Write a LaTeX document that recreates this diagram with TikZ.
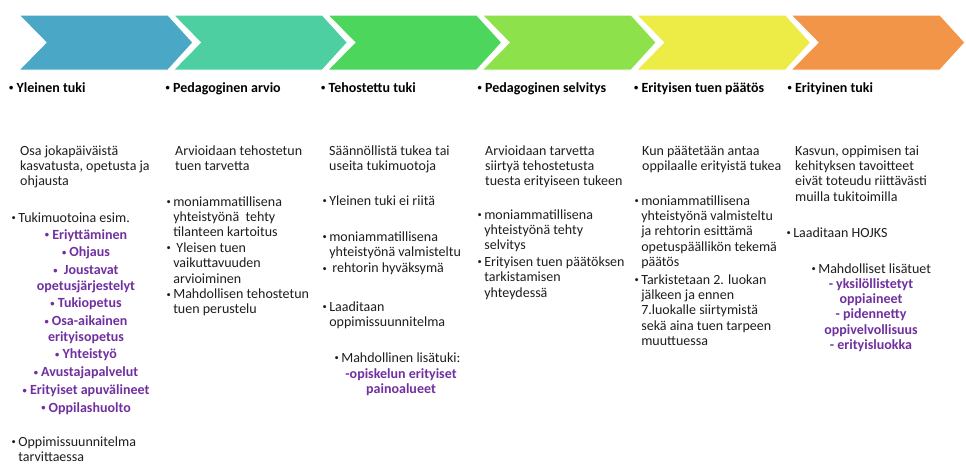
\documentclass[tikz,border=0pt]{standalone}
\usepackage{fontspec}
\setmainfont{Carlito}
\newcommand\fs{\fontsize{14}{15.4}\selectfont}
\newcommand\bu{\raisebox{1.4pt}{\fontsize{8.5}{8.5}\selectfont•}}
\newcommand\tb[1]{\begin{tabular}[t]{@{}l@{}}#1\end{tabular}}
\newcommand\bt[1]{\begin{tabular}[t]{@{}p{6.6pt}@{}l@{}}#1\end{tabular}}
\newcommand\ct[1]{\begin{tabular}[t]{@{}c@{}}#1\end{tabular}}
\definecolor{cA}{HTML}{4AA7C5}
\definecolor{cB}{HTML}{4DCFA2}
\definecolor{cC}{HTML}{4CD65C}
\definecolor{cD}{HTML}{8DE24B}
\definecolor{cE}{HTML}{EDEC47}
\definecolor{cF}{HTML}{F39548}
\definecolor{purp}{HTML}{7030A0}
\definecolor{ink}{HTML}{1E1E1E}
\tikzset{
  txt/.style={anchor=base west, inner sep=0pt, font=\fs, text=ink},
  pur/.style={anchor=base, inner sep=0pt, font=\fs\bfseries, text=purp},
  head/.style={anchor=base west, inner sep=0pt, font=\fs\bfseries, text=black},
  chev/.style={draw=white, line width=1pt}
}
\begin{document}
\begin{tikzpicture}[x=1pt,y=-1pt]
\useasboundingbox (0,0) rectangle (966,467);
\fill[white] (0,0) rectangle (966,467);
% chevrons
\foreach \i/\c in {0/cA,1/cB,2/cC,3/cD,4/cE,5/cF}{
  \filldraw[chev, fill=\c] ({19+154.4*\i},15) -- ++(149,0) -- ++(25,27.5) -- ++(-25,27.5) -- ++(-149,0) -- ++(27,-27.5) -- cycle;
}
% column 1
\node[head] (h1) at (9,92) {\bu\ Yleinen tuki};
\node[txt] (t1a) at (20,155) {\tb{Osa jokapäiväistä\\kasvatusta, opetusta ja\\ohjausta}};
\node[txt] (t1b) at (11.5,222) {\bt{\bu&Tukimuotoina esim.}};
\node[pur] (t1c) at (86,239) {\ct{\bu\ Eriyttäminen\\[2.4pt]\bu\ Ohjaus\\[2.4pt]\bu\ \ Joustavat\\opetusjärjestelyt\\[2.4pt]\bu\ Tukiopetus\\[2.4pt]\bu\ Osa-aikainen\\erityisopetus\\[2.4pt]\bu\ Yhteistyö\\[2.4pt]\bu\ Avustajapalvelut\\[2.4pt]\bu\ Erityiset apuvälineet\\[2.4pt]\bu\ Oppilashuolto}};
\node[txt] (t1d) at (11.5,446) {\bt{\bu&Oppimissuunnitelma\\&tarvittaessa}};
% column 2
\node[head] (h2) at (165.5,92) {\bu\ Pedagoginen arvio};
\node[txt] (t2a) at (175,155) {\tb{Arvioidaan tehostetun\\tuen tarvetta}};
\node[txt] (t2b) at (166.5,206) {\bt{\bu&moniammatillisena\\&yhteistyönä\ \ tehty\\&tilanteen kartoitus\\\bu&\ Yleisen tuen\\&vaikuttavuuden\\&arvioiminen\\\bu&Mahdollisen tehostetun\\&tuen perustelu}};
% column 3
\node[head] (h3) at (321,92) {\bu\ Tehostettu tuki};
\node[txt] (t3a) at (329,155) {\tb{Säännöllistä tukea tai\\useita tukimuotoja}};
\node[txt] (t3b) at (322.5,205) {\bt{\bu&Yleinen tuki ei riitä}};
\node[txt] (t3c) at (322.5,241) {\bt{\bu&moniammatillisena\\&yhteistyönä valmisteltu\\[1pt]\bu&\ rehtorin hyväksymä}};
\node[txt] (t3d) at (322.5,311) {\bt{\bu&Laaditaan\\&oppimissuunnitelma}};
\node[txt] (t3e) at (334.5,362) {\bt{\bu&Mahdollinen lisätuki:}};
\node[pur] (t3f) at (401,378) {\ct{-opiskelun erityiset\\painoalueet}};
% column 4
\node[head] (h4) at (477.5,92) {\bu\ Pedagoginen selvitys};
\node[txt] (t4a) at (485,155) {\tb{Arvioidaan tarvetta\\siirtyä tehostetusta\\tuesta erityiseen tukeen}};
\node[txt] (t4b) at (477.5,219) {\bt{\bu&moniammatillisena\\&yhteistyönä tehty\\&selvitys\\[1pt]\bu&Erityisen tuen päätöksen\\&tarkistamisen\\&yhteydessä}};
% column 5
\node[head] (h5) at (634,92) {\bu\ Erityisen tuen päätös};
\node[txt] (t5a) at (642,155) {\tb{Kun päätetään antaa\\oppilaalle erityistä tukea}};
\node[txt] (t5b) at (634.5,205) {\bt{\bu&moniammatillisena\\&yhteistyönä valmisteltu\\&ja rehtorin esittämä\\&opetuspäällikön tekemä\\&päätös\\[2pt]\bu&Tarkistetaan 2. luokan\\&jälkeen ja ennen\\&7.luokalle siirtymistä\\&sekä aina tuen tarpeen\\&muuttuessa}};
% column 6
\node[head] (h6) at (787.5,92) {\bu\ Erityinen tuki};
\node[txt] (t6a) at (795,155) {\tb{Kasvun, oppimisen tai\\kehityksen tavoitteet\\eivät toteudu riittävästi\\muilla tukitoimilla}};
\node[txt] (t6b) at (786.5,237) {\bt{\bu&Laaditaan HOJKS}};
\node[txt] (t6c) at (811.5,273) {\bt{\bu&Mahdolliset lisätuet}};
\node[pur] (t6d) at (871,288) {\ct{- yksilöllistetyt\\oppiaineet\\- pidennetty\\oppivelvollisuus\\- erityisluokka}};
\end{tikzpicture}
\end{document}
